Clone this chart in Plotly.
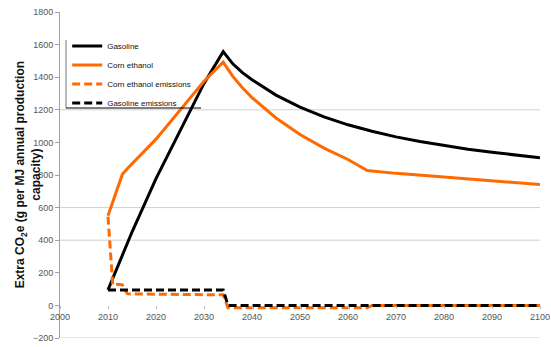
import plotly.graph_objects as go

# ---- data ----
gas_years = [2010, 2015, 2020, 2025, 2030, 2034, 2036, 2038, 2040, 2045, 2050, 2055,
             2060, 2065, 2070, 2075, 2080, 2085, 2090, 2095, 2100]
gas_vals = [95, 450, 778, 1075, 1362, 1557, 1482, 1428, 1385, 1290, 1217, 1157,
            1108, 1068, 1034, 1005, 980, 958, 939, 922, 906]

corn_years = [2010, 2011, 2012, 2013, 2014, 2020, 2025, 2030, 2034, 2036, 2038, 2040,
              2045, 2050, 2055, 2060, 2064, 2070, 2080, 2090, 2100]
corn_vals = [550, 640, 720, 805, 838, 1020, 1195, 1375, 1492, 1405, 1335, 1275,
             1150, 1048, 965, 895, 828, 810, 787, 764, 742]

corn_em_years = [2010, 2011, 2012, 2013, 2014, 2015, 2034, 2035, 2064, 2065, 2100]
corn_em_vals = [545, 125, 130, 126, 72, 70, 65, -15, -15, 0, 0]

gas_em_years = [2010, 2034, 2035, 2100]
gas_em_vals = [95, 95, 0, 0]

y_ticks = list(range(-200, 1801, 200))
x_ticks = list(range(2000, 2101, 10))
grid_vals = [-200, 400, 600, 1200]

ORANGE = "#FF6A00"
FONT = "Liberation Sans, Arial, sans-serif"

fig = go.Figure()
fig.add_trace(go.Scatter(x=gas_years, y=gas_vals, mode="lines", name="Gasoline",
                         line=dict(color="black", width=3)))
fig.add_trace(go.Scatter(x=corn_years, y=corn_vals, mode="lines", name="Corn ethanol",
                         line=dict(color=ORANGE, width=3)))
fig.add_trace(go.Scatter(x=corn_em_years, y=corn_em_vals, mode="lines",
                         name="Corn ethanol emissions",
                         line=dict(color=ORANGE, width=3, dash="8px,4px")))
fig.add_trace(go.Scatter(x=gas_em_years, y=gas_em_vals, mode="lines",
                         name="Gasoline emissions",
                         line=dict(color="black", width=3, dash="8px,4px")))

shapes = []
for g in grid_vals:
    shapes.append(dict(type="line", xref="paper", x0=0, x1=1, yref="y", y0=g, y1=g,
                       line=dict(color="#D0D0D0", width=1), layer="below"))
# legend frame pieces (left grey, bottom black)
shapes.append(dict(type="line", xref="paper", yref="paper", x0=0.0125, x1=0.0125,
                   y0=0.7055, y1=0.914, line=dict(color="#A0A0A0", width=1.5)))
shapes.append(dict(type="line", xref="paper", yref="paper", x0=0.0125, x1=0.294,
                   y0=0.7055, y1=0.7055, line=dict(color="black", width=1)))

fig.update_layout(
    width=551, height=347,
    margin=dict(l=60, r=11, t=12, b=9, autoexpand=False),
    paper_bgcolor="white", plot_bgcolor="white",
    font=dict(family=FONT, size=9, color="#333"),
    showlegend=True,
    legend=dict(x=0.015, y=0.94, xanchor="left", yanchor="top",
                bgcolor="rgba(0,0,0,0)", borderwidth=0,
                font=dict(family=FONT, size=8, color="#111"),
                tracegroupgap=0),
    shapes=shapes,
    xaxis=dict(range=[2000, 2100], tickvals=x_ticks, anchor="free", position=0.1,
               showline=False, showgrid=False, zeroline=False, automargin=False,
               ticks="outside", ticklen=3, tickcolor="#BBBBBB",
               tickfont=dict(family=FONT, size=9, color="#555")),
    yaxis=dict(range=[-200, 1800], tickvals=y_ticks, showgrid=False, zeroline=False,
               showline=True, linecolor="#A0A0A0", linewidth=1, automargin=False,
               ticks="outside", ticklen=4, tickcolor="#A0A0A0",
               tickfont=dict(family=FONT, size=9, color="#555")),
    annotations=[dict(text="<b>Extra CO<sub>2</sub>e (g per MJ annual production<br>capacity)</b>",
                      xref="paper", yref="paper", x=-0.066, y=0.5, textangle=-90,
                      showarrow=False, xanchor="center", yanchor="middle",
                      font=dict(family=FONT, size=12, color="#111"))],
)

fig.write_html("out.html", config={"displayModeBar": False},
               post_script="document.body.style.margin='0';document.body.style.overflow='hidden';")
